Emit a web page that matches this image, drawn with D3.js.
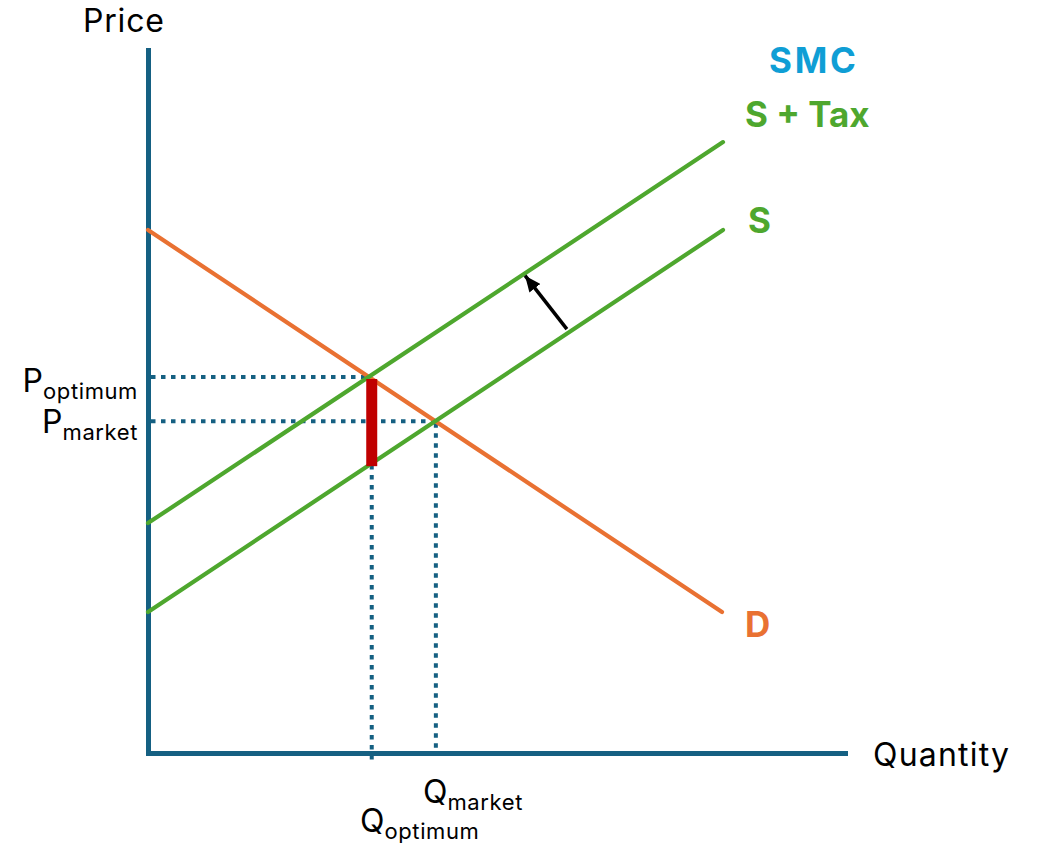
<!DOCTYPE html>
<html>
<head>
<meta charset="utf-8">
<script src="https://cdn.jsdelivr.net/npm/d3@7"></script>
<style>
  html, body { margin: 0; padding: 0; background: #ffffff; }
  svg { display: block; }
  text { font-family: Inter, "Open Sans", "Liberation Sans", sans-serif; }
</style>
</head>
<body>
<svg id="chart" width="1038" height="843"></svg>
<script>
// ---- data (abstract price/quantity units) ----
const curveNames = ["D", "S", "S + Tax"];
const demandQ = [0, 82.35];
const demandP = [74.4, 20.06];
const supplyQ = [0, 82.5];
const supplyP = [20.06, 74.4];
const taxSupplyQ = [0, 82.5];
const taxSupplyP = [32.7, 86.9];
const pointNames = ["optimum", "market"];
const pointQ = [32.1, 41.3];
const pointP = [53.5, 47.2];
const wedgeQ = [32.1];
const wedgeP = [53.2, 40.8];
const shiftArrowQ = [60.1, 54.1];
const shiftArrowP = [60.3, 67.9];
const axisTitles = ["Price", "Quantity"];
const extraLabel = "SMC";

// ---- colours ----
const axisColor = "#156082";
const demandColor = "#E97132";
const supplyColor = "#4EA72E";
const smcColor = "#0F9ED5";
const wedgeColor = "#C00000";

const svg = d3.select("#chart");
const x = d3.scaleLinear().domain([0, 100]).range([148, 845]);
const y = d3.scaleLinear().domain([0, 100]).range([753, 50]);

// axes (no ticks)
const xAxis = svg.append("g").attr("transform", `translate(0,${y(0)})`)
  .call(d3.axisBottom(x).tickValues([]).tickSizeOuter(0));
const yAxis = svg.append("g").attr("transform", `translate(${x(0)},0)`)
  .call(d3.axisLeft(y).tickValues([]).tickSizeOuter(0));
[xAxis, yAxis].forEach(g => g.select(".domain")
  .attr("stroke", axisColor).attr("stroke-width", 5).attr("stroke-linecap", "square"));

// dotted guide lines
const dotted = svg.append("g")
  .attr("stroke", axisColor).attr("stroke-width", 4)
  .attr("stroke-dasharray", "4.5 5.5").attr("fill", "none");
pointNames.forEach((n, i) => {
  dotted.append("line")
    .attr("x1", x(0) + 3).attr("y1", y(pointP[i]))
    .attr("x2", x(pointQ[i])).attr("y2", y(pointP[i]));
  dotted.append("line")
    .attr("x1", x(pointQ[i])).attr("y1", y(pointP[i]) + (i === 0 ? 88 : 2))
    .attr("x2", x(pointQ[i])).attr("y2", y(i === 0 ? -1.6 : 0));
});

// curves
const line = d3.line().x(d => x(d[0])).y(d => y(d[1]));
const curves = [
  { q: demandQ, p: demandP, c: demandColor },
  { q: supplyQ, p: supplyP, c: supplyColor },
  { q: taxSupplyQ, p: taxSupplyP, c: supplyColor }
];
curves.forEach(cv => {
  svg.append("path")
    .datum(cv.q.map((q, i) => [q, cv.p[i]]))
    .attr("d", line)
    .attr("fill", "none")
    .attr("stroke", cv.c)
    .attr("stroke-width", 4.2)
    .attr("stroke-linecap", "round");
});

// red wedge (tax)
svg.append("rect")
  .attr("x", x(wedgeQ[0]) - 5.5)
  .attr("y", y(wedgeP[0]))
  .attr("width", 11)
  .attr("height", y(wedgeP[1]) - y(wedgeP[0]))
  .attr("fill", wedgeColor);

// shift arrow
svg.append("defs").append("marker")
  .attr("id", "head")
  .attr("markerUnits", "userSpaceOnUse")
  .attr("viewBox", "0 0 16 14")
  .attr("refX", 16).attr("refY", 7)
  .attr("markerWidth", 16).attr("markerHeight", 14)
  .attr("orient", "auto")
  .append("path").attr("d", "M0,0 L16,7 L0,14 Z").attr("fill", "#000");
svg.append("line")
  .attr("x1", x(shiftArrowQ[0])).attr("y1", y(shiftArrowP[0]))
  .attr("x2", x(shiftArrowQ[1])).attr("y2", y(shiftArrowP[1]))
  .attr("stroke", "#000").attr("stroke-width", 3.5)
  .attr("marker-end", "url(#head)");

// axis titles
svg.append("text").attr("x", 83).attr("y", 32)
  .attr("font-size", 32).attr("letter-spacing", 0.8).attr("fill", "#000").text(axisTitles[0]);
svg.append("text").attr("x", 873).attr("y", 766)
  .attr("font-size", 32).attr("letter-spacing", 1.2).attr("fill", "#000").text(axisTitles[1]);

// price labels (right-aligned against the axis)
const pLabelBase = [392, 433];
pointNames.forEach((n, i) => {
  const t = svg.append("text").attr("x", 138).attr("y", pLabelBase[i])
    .attr("text-anchor", "end").attr("fill", "#000");
  t.append("tspan").attr("font-size", 32).text("P");
  t.append("tspan").attr("font-size", 22).attr("letter-spacing", 0.6).attr("dy", 7).text(n);
});

// quantity labels
const qLabelPos = [[360, 832], [423, 803]];
pointNames.forEach((n, i) => {
  const t = svg.append("text").attr("x", qLabelPos[i][0]).attr("y", qLabelPos[i][1])
    .attr("fill", "#000");
  t.append("tspan").attr("font-size", 32).text("Q");
  t.append("tspan").attr("font-size", 22).attr("letter-spacing", 0.6).attr("dy", 7).text(n);
});

// curve labels
const bold = (txt, px, py, col, ls) => svg.append("text")
  .attr("x", px).attr("y", py).attr("font-size", 35).attr("font-weight", 700)
  .attr("letter-spacing", ls).attr("fill", col).text(txt);
bold(extraLabel, 769, 73, smcColor, 2.8);
bold(curveNames[2], 745, 127, supplyColor, 0);
bold(curveNames[1], 748, 233, supplyColor, 0);
bold(curveNames[0], 745, 637, demandColor, 0);
</script>
</body>
</html>
